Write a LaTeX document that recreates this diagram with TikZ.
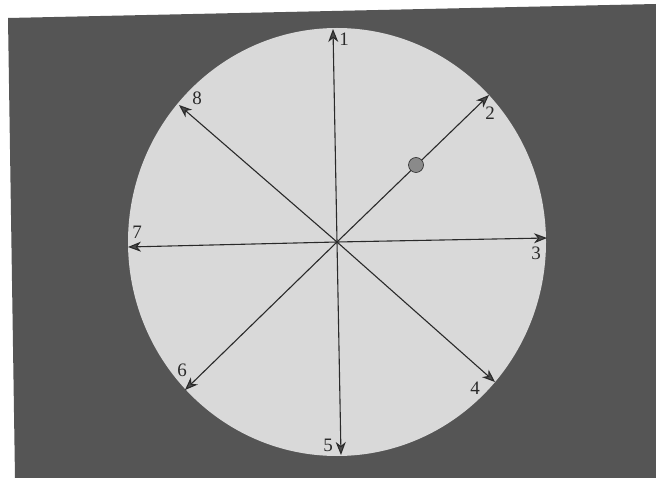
\documentclass[tikz,border=0pt]{standalone}
\usepackage{fontspec}
\setmainfont{Liberation Serif}
\usetikzlibrary{arrows.meta}
\definecolor{bgdark}{HTML}{555555}
\definecolor{disc}{HTML}{D9D9D9}
\definecolor{ink}{HTML}{2A2A2A}
\definecolor{dotc}{HTML}{8A8A8A}
\tikzset{
  ray/.style={draw=ink, line width=1.1pt, -{Stealth[length=13pt,width=10pt,inset=4pt,fill=gray!60!black,color=ink]}},
  lbl/.style={font=\fontsize{19}{19}\selectfont, text=ink, inner sep=0pt},
}
\begin{document}
\begin{tikzpicture}[x=1pt,y=-1pt]
\useasboundingbox (0,0) rectangle (656,478);
\fill[white] (0,0) rectangle (656,478);
\fill[bgdark] (8,18) -- (656,4) -- (656,478) -- (15,478) -- cycle;
\fill[disc] (337,242) ellipse [x radius=209, y radius=214];
\coordinate (c) at (337,242);
\coordinate (t1) at (333,29);
\coordinate (t2) at (489,95);
\coordinate (t3) at (547,238);
\coordinate (t4) at (495,382);
\coordinate (t5) at (341,455);
\coordinate (t6) at (185,390);
\coordinate (t7) at (128,247);
\coordinate (t8) at (179,105);
\foreach \i in {1,...,8} {\draw[ray] (c) -- (t\i);}
\node[circle, fill=dotc, draw=ink, line width=0.6pt, minimum size=15pt, inner sep=0pt] (dot) at (416,165) {};
\node[lbl] (l1) at (344,39) {1};
\node[lbl] (l2) at (490,113) {2};
\node[lbl] (l3) at (536,253) {3};
\node[lbl] (l4) at (475,388) {4};
\node[lbl] (l5) at (328,445) {5};
\node[lbl] (l6) at (182,370) {6};
\node[lbl] (l7) at (137,232) {7};
\node[lbl] (l8) at (197,98) {8};
\end{tikzpicture}
\end{document}
